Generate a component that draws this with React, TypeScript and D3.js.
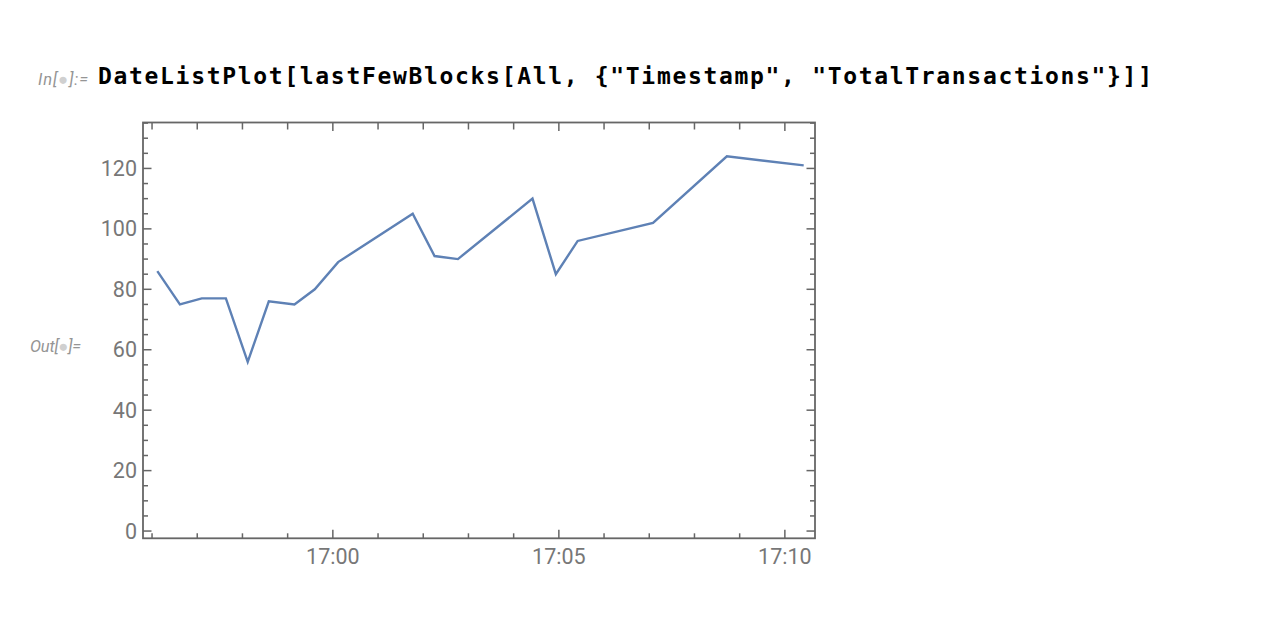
import React from "react";
import * as d3 from "d3";

const times = [
  "16:56:07", "16:56:37", "16:57:06", "16:57:38", "16:58:07", "16:58:35",
  "16:59:09", "16:59:36", "17:00:07", "17:01:46", "17:02:15", "17:02:46",
  "17:04:25", "17:04:56", "17:05:25", "17:07:05", "17:08:43", "17:10:25",
];
const totalTransactions = [
  86, 75, 77, 77, 56, 76, 75, 80, 89, 105, 91, 90, 110, 85, 96, 102, 124, 121,
];
const xDomain = ["16:55:48", "17:10:40"];
const yDomain = [-2.4, 135.2];
const yMajorTicks = [0, 20, 40, 60, 80, 100, 120];

const inputCode = 'DateListPlot[lastFewBlocks[All, {"Timestamp", "TotalTransactions"}]]';

const parse = d3.timeParse("%H:%M:%S");

export default function App() {
  const W = 1266;
  const H = 630;
  const left = 143;
  const right = 815;
  const top = 122.5;
  const bottom = 538.3;

  const x = d3
    .scaleTime()
    .domain(xDomain.map((s) => parse(s) as Date))
    .range([left, right]);
  const y = d3.scaleLinear().domain(yDomain).range([bottom, top]);

  const data = times.map((t, i) => ({ t: parse(t) as Date, v: totalTransactions[i] }));
  const line = d3
    .line<{ t: Date; v: number }>()
    .x((d) => x(d.t))
    .y((d) => y(d.v));

  const xMajor = x.ticks(d3.timeMinute.every(5) as any);
  const xMinor = x
    .ticks(d3.timeMinute.every(1) as any)
    .filter((d) => d.getMinutes() % 5 !== 0);
  const yMinor = d3.range(0, 136, 5).filter((v) => v % 20 !== 0);
  const fmt = d3.timeFormat("%H:%M");

  const frameColor = "#666666";
  const labelColor = "#777777";
  const majorLen = 8.5;
  const minorLen = 5;

  return (
    <svg
      width={W}
      height={H}
      style={{ position: "absolute", left: 0, top: 0, background: "#fff" }}
      xmlns="http://www.w3.org/2000/svg"
    >
      <rect x={0} y={0} width={W} height={H} fill="#ffffff" />
      {/* Input cell label */}
      <text
        x={38}
        y={85}
        fontFamily="Roboto, 'Noto Sans', sans-serif"
        fontStyle="italic"
        fontSize={16.5}
        fill="#959595"
        textLength={50}
        lengthAdjust="spacing"
      >
        In[<tspan fill="#d0d0d0">●</tspan>]:=
      </text>
      <text
        x={98}
        y={84}
        fontFamily="'DejaVu Sans Mono', 'Liberation Mono', monospace"
        fontWeight="bold"
        fontSize={23}
        fill="#000000"
        textLength={1054}
        lengthAdjust="spacing"
      >
        {inputCode}
      </text>
      {/* Output label */}
      <text
        x={30}
        y={352}
        fontFamily="Roboto, 'Noto Sans', sans-serif"
        fontStyle="italic"
        fontSize={16.5}
        fill="#959595"
        textLength={51}
        lengthAdjust="spacing"
      >
        Out[<tspan fill="#d0d0d0">●</tspan>]=
      </text>

      {/* Data line */}
      <path
        d={line(data) || ""}
        fill="none"
        stroke="#5E81B5"
        strokeWidth={2.4}
        strokeLinejoin="miter"
      />

      {/* Ticks */}
      <g stroke={frameColor} strokeWidth={1.5}>
        {xMajor.map((d, i) => (
          <g key={"xM" + i}>
            <line x1={x(d)} x2={x(d)} y1={bottom} y2={bottom - majorLen} />
            <line x1={x(d)} x2={x(d)} y1={top} y2={top + majorLen} />
          </g>
        ))}
        {xMinor.map((d, i) => (
          <g key={"xm" + i}>
            <line x1={x(d)} x2={x(d)} y1={bottom} y2={bottom - minorLen} />
            <line x1={x(d)} x2={x(d)} y1={top} y2={top + minorLen + 2} />
          </g>
        ))}
        {yMajorTicks.map((v) => (
          <g key={"yM" + v}>
            <line x1={left} x2={left + majorLen} y1={y(v)} y2={y(v)} />
            <line x1={right} x2={right - majorLen} y1={y(v)} y2={y(v)} />
          </g>
        ))}
        {yMinor.map((v) => (
          <g key={"ym" + v}>
            <line x1={left} x2={left + minorLen} y1={y(v)} y2={y(v)} />
            <line x1={right} x2={right - minorLen} y1={y(v)} y2={y(v)} />
          </g>
        ))}
      </g>

      {/* Frame */}
      <rect
        x={left}
        y={top}
        width={right - left}
        height={bottom - top}
        fill="none"
        stroke={frameColor}
        strokeWidth={1.8}
      />

      {/* Tick labels */}
      <g fontFamily="Roboto, 'Noto Sans', sans-serif" fontSize={21.5} fill={labelColor}>
        {yMajorTicks.map((v) => (
          <text key={"yl" + v} x={137} y={y(v)} textAnchor="end" dominantBaseline="central">
            {v}
          </text>
        ))}
        {xMajor.map((d, i) => (
          <text key={"xl" + i} x={x(d)} y={564} textAnchor="middle">
            {fmt(d)}
          </text>
        ))}
      </g>
    </svg>
  );
}
